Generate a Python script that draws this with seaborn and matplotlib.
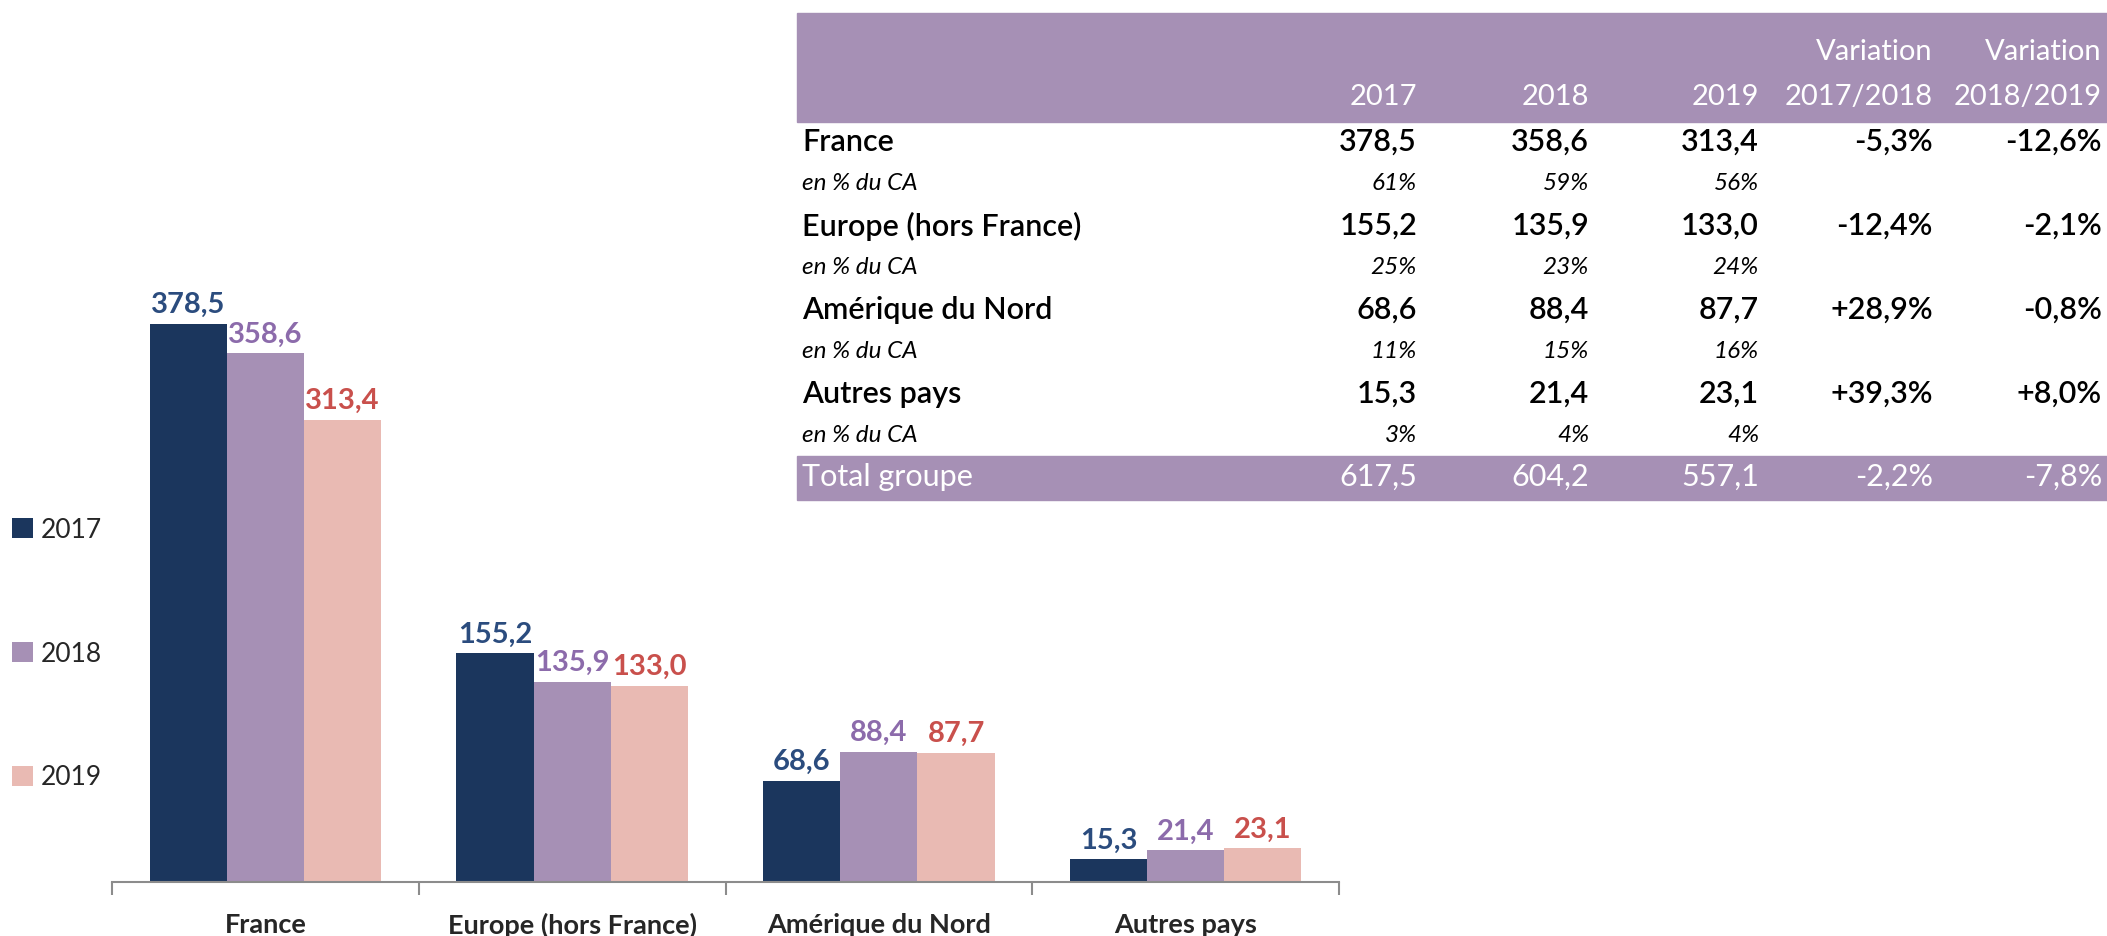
import matplotlib.pyplot as plt
import seaborn as sns
import pandas as pd
from matplotlib.patches import Rectangle

regions = ["France", "Europe (hors France)", "Amérique du Nord", "Autres pays"]
years = ["2017", "2018", "2019"]
ca_2017 = [378.5, 155.2, 68.6, 15.3]
ca_2018 = [358.6, 135.9, 88.4, 21.4]
ca_2019 = [313.4, 133.0, 87.7, 23.1]
pct_2017 = [61, 25, 11, 3]
pct_2018 = [59, 23, 15, 4]
pct_2019 = [56, 24, 16, 4]
var_17_18 = [-5.3, -12.4, 28.9, 39.3]
var_18_19 = [-12.6, -2.1, -0.8, 8.0]
total = [617.5, 604.2, 557.1]
total_var = [-2.2, -7.8]

bar_colors = ["#1b365d", "#a690b5", "#e9bab3"]
label_colors = ["#2b4c7e", "#8c6bab", "#c9504c"]
band = "#a690b5"

W, H = 2107, 936


def fmt(v):
    return f"{v:.1f}".replace(".", ",")


def fmt_var(v):
    return f"{v:+.1f}%".replace(".", ",")


series = [ca_2017, ca_2018, ca_2019]
df = pd.DataFrame({
    "region": regions * 3,
    "year": [y for y in years for _ in regions],
    "value": ca_2017 + ca_2018 + ca_2019,
})

sns.set_theme(style="white")
plt.rcParams["font.family"] = ["Lato", "DejaVu Sans"]

fig = plt.figure(figsize=(W / 100, H / 100), dpi=100)
ax = fig.add_axes([112 / W, 54 / H, 1227 / W, 582 / H])

sns.barplot(data=df, x="region", y="value", hue="year", palette=bar_colors,
            width=0.755, saturation=1, linewidth=0, ax=ax)

for cont, vals, col in zip(ax.containers, series, label_colors):
    ax.bar_label(cont, labels=[fmt(v) for v in vals], padding=4, color=col,
                 fontsize=21, fontweight="bold")

ax.set_ylim(0, 394.6)
ax.set_xlim(-0.5, 3.5)
ax.set_yticks([])
ax.set_xlabel("")
ax.set_ylabel("")
for s in ["left", "top", "right"]:
    ax.spines[s].set_visible(False)
ax.spines["bottom"].set_color("#8c8c8c")
ax.spines["bottom"].set_linewidth(1.5)
ax.set_xticks([-0.5, 0.5, 1.5, 2.5, 3.5], minor=True)
ax.tick_params(axis="x", which="minor", length=9, width=1.5, color="#8c8c8c", bottom=True)
ax.tick_params(axis="x", which="major", length=0, pad=22, labelsize=19.5)
for t in ax.get_xticklabels():
    t.set_fontweight("bold")

handles, labels = ax.get_legend_handles_labels()
ax.get_legend().remove()
fig.legend(handles, labels, loc="center left", bbox_to_anchor=(1 / W, 1 - 654 / H),
           frameon=False, fontsize=19, labelspacing=3.75, handlelength=0.8,
           handleheight=0.8, handletextpad=0.3, borderaxespad=0)

# --- table ---
fig.patches.append(Rectangle((797 / W, 1 - 122 / H), 1310 / W, 109 / H,
                             transform=fig.transFigure, color=band, zorder=0))
fig.patches.append(Rectangle((797 / W, 1 - 500 / H), 1310 / W, 44 / H,
                             transform=fig.transFigure, color=band, zorder=0))

col_x = [1417, 1589, 1759, 1933, 2102]
lab_x = 802


def put(x, y, s, **kw):
    fig.text(x / W, 1 - y / H, s, va="center", **kw)


for x, s in zip(col_x[3:], ["Variation", "Variation"]):
    put(x, 52, s, ha="right", color="white", fontsize=21)
for x, s in zip(col_x, years + ["2017/2018", "2018/2019"]):
    put(x, 97, s, ha="right", color="white", fontsize=21)

row_y = [142, 226, 310, 394]
pcts = list(zip(pct_2017, pct_2018, pct_2019))
for i, reg in enumerate(regions):
    y = row_y[i]
    put(lab_x, y, reg, ha="left", color="black", fontsize=22, fontweight="semibold")
    vals = [fmt(ca_2017[i]), fmt(ca_2018[i]), fmt(ca_2019[i]),
            fmt_var(var_17_18[i]), fmt_var(var_18_19[i])]
    for x, s in zip(col_x, vals):
        put(x, y, s, ha="right", color="black", fontsize=22, fontweight="semibold")
    y2 = y + 42
    put(lab_x, y2, "en % du CA", ha="left", color="black", fontsize=17.5, style="italic")
    for x, p in zip(col_x[:3], pcts[i]):
        put(x, y2, f"{p}%", ha="right", color="black", fontsize=17.5, style="italic")

put(lab_x, 477, "Total groupe", ha="left", color="white", fontsize=22)
for x, s in zip(col_x, [fmt(v) for v in total] + [fmt_var(v) for v in total_var]):
    put(x, 477, s, ha="right", color="white", fontsize=22)

plt.savefig("out.png", dpi=100)
plt.close()
print("saved: out.png")
